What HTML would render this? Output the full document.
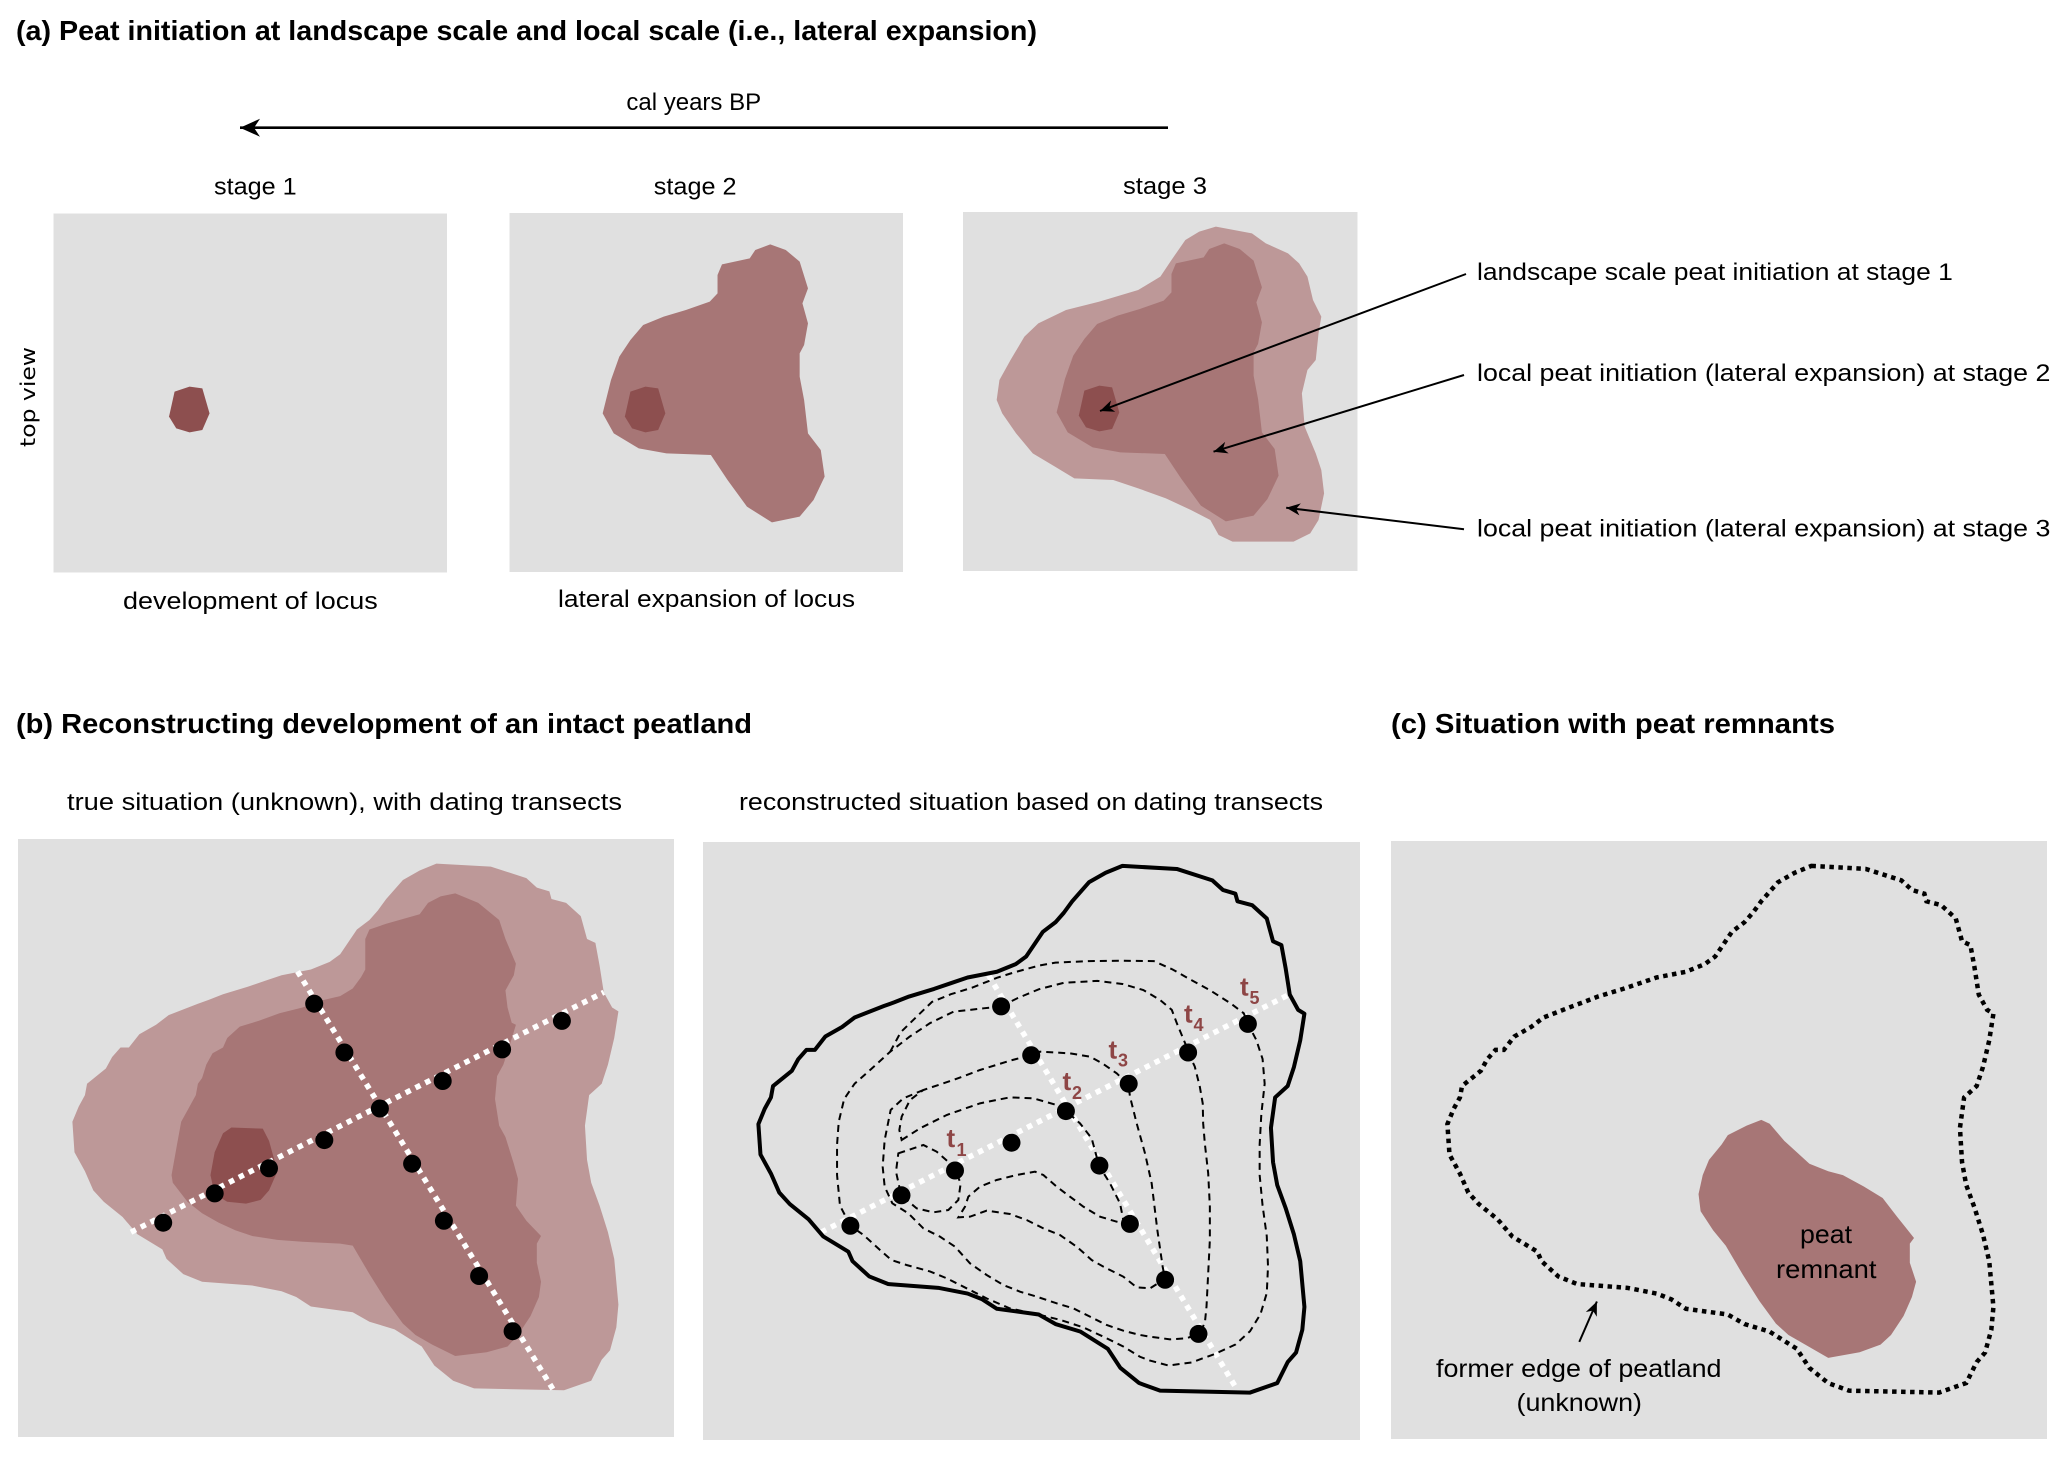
<!DOCTYPE html>
<html>
<head>
<meta charset="utf-8">
<style>
  html, body { margin: 0; padding: 0; background: #ffffff; }
  svg { display: block; }
  text { font-family: "Liberation Sans", "DejaVu Sans", sans-serif; fill: #000; }
</style>
</head>
<body>
<svg width="2067" height="1458" viewBox="0 0 2067 1458" xmlns="http://www.w3.org/2000/svg">
  <defs>
    <marker id="ah" viewBox="-16 -8 18 16" markerWidth="18" markerHeight="16" refX="0" refY="0" orient="auto" markerUnits="userSpaceOnUse">
      <path d="M0,0 L-14,-6 L-10,0 L-14,6 Z" fill="#000"/>
    </marker>
    <marker id="ahBig" viewBox="-24 -11 26 22" markerWidth="26" markerHeight="22" refX="0" refY="0" orient="auto" markerUnits="userSpaceOnUse">
      <path d="M0,0 L-20,-9 L-14,0 L-20,9 Z" fill="#000"/>
    </marker>
    <path id="s2" d="M487,133 L460,150 L450,175 L400,193 L392,225 L392,280 L378,305 L335,330 L295,350 L258,375 L235,420 L215,470 L200,540 L185,640 L205,700 L250,745 L300,760 L380,765 L410,840 L445,920 L490,967 L540,950 L565,900 L585,830 L578,750 L555,700 L548,600 L540,530 L540,460 L548,435 L555,370 L545,310 L555,265 L540,185 L515,150 Z"/>
    <path id="blob" d="M262,560 L285,565 L298,640 L285,690 L262,697 L238,685 L225,650 L235,575 Z"/>
    <path id="outer" vector-effect="non-scaling-stroke" d="M1000,62 L1130,70 L1215,100 L1240,125 L1270,135 L1275,155 L1310,165 L1345,200 L1360,260 L1380,270 L1390,330 L1400,400 L1420,440 L1435,450 L1425,520 L1410,590 L1395,640 L1365,670 L1355,750 L1360,840 L1370,900 L1390,960 L1410,1030 L1425,1100 L1435,1220 L1430,1280 L1415,1340 L1395,1365 L1370,1420 L1305,1445 L1090,1440 L1040,1420 L995,1380 L965,1330 L900,1285 L840,1265 L800,1240 L700,1225 L665,1200 L630,1185 L560,1170 L440,1160 L395,1140 L355,1100 L345,1075 L285,1035 L250,990 L205,950 L180,920 L160,870 L135,820 L130,740 L145,700 L160,670 L165,640 L210,600 L225,570 L245,545 L265,545 L290,510 L330,485 L360,460 L430,430 L455,420 L490,405 L550,385 L590,370 L630,355 L700,340 L745,320 L770,300 L810,235 L840,210 L860,185 L880,155 L920,105 L960,80 Z"/>
  </defs>

  <!-- ================= (a) ================= -->
  <text x="16" y="40" font-size="28" font-weight="bold" textLength="1021" lengthAdjust="spacingAndGlyphs">(a) Peat initiation at landscape scale and local scale (i.e., lateral expansion)</text>

  <text x="626.4" y="110" font-size="24" textLength="134.7" lengthAdjust="spacingAndGlyphs">cal years BP</text>
  <path d="M1168,127.7 L240,127.7" stroke="#000" stroke-width="2.7" fill="none" marker-end="url(#ahBig)"/>

  <text x="214" y="194.5" font-size="24" textLength="82.7" lengthAdjust="spacingAndGlyphs">stage 1</text>
  <text x="653.8" y="194.5" font-size="24" textLength="82.8" lengthAdjust="spacingAndGlyphs">stage 2</text>
  <text x="1123" y="194" font-size="24" textLength="84" lengthAdjust="spacingAndGlyphs">stage 3</text>

  <rect x="53.5" y="213.5" width="393.5" height="359" fill="#e0e0e0"/>
  <rect x="509.5" y="213" width="393.5" height="359" fill="#e0e0e0"/>
  <rect x="963" y="212" width="394.5" height="359" fill="#e0e0e0"/>

  <g transform="translate(500 200) scale(0.554939 0.333333)">
    <use href="#blob" transform="translate(-821.4 0)" fill="#8d4f4f"/>
    <use href="#s2" fill="#a77676"/>
    <use href="#blob" fill="#8d4f4f"/>
    <path fill="#bd9898" d="M1290,80 L1355,100 L1380,130 L1420,160 L1440,190 L1455,230 L1465,300 L1480,350 L1475,400 L1470,480 L1455,510 L1445,580 L1450,680 L1470,760 L1480,810 L1485,880 L1475,960 L1460,1000 L1430,1025 L1320,1025 L1295,1005 L1280,960 L1245,930 L1200,895 L1150,865 L1105,840 L1035,835 L1000,800 L960,760 L930,700 L905,640 L895,600 L900,540 L920,480 L945,410 L970,370 L1020,330 L1080,305 L1150,270 L1190,230 L1210,180 L1235,120 L1260,95 Z"/>
    <g transform="translate(818 -3)">
      <use href="#s2" fill="#a77676"/>
      <use href="#blob" fill="#8d4f4f"/>
    </g>
  </g>

  <text transform="translate(35 397) rotate(-90)" text-anchor="middle" font-size="20" style="font-family:'DejaVu Sans','Liberation Sans',sans-serif" textLength="100" lengthAdjust="spacingAndGlyphs">top view</text>

  <text x="123" y="609" font-size="24" textLength="254.7" lengthAdjust="spacingAndGlyphs">development of locus</text>
  <text x="558" y="607" font-size="24" textLength="297" lengthAdjust="spacingAndGlyphs">lateral expansion of locus</text>

  <path d="M1466,274 L1100,411" stroke="#000" stroke-width="2" fill="none" marker-end="url(#ah)"/>
  <path d="M1464,375 L1213.5,451.7" stroke="#000" stroke-width="2" fill="none" marker-end="url(#ah)"/>
  <path d="M1464,529.3 L1286.2,507.7" stroke="#000" stroke-width="2" fill="none" marker-end="url(#ah)"/>

  <text x="1477" y="280" font-size="24" textLength="475.8" lengthAdjust="spacingAndGlyphs">landscape scale peat initiation at stage 1</text>
  <text x="1477" y="381" font-size="24" textLength="573.4" lengthAdjust="spacingAndGlyphs">local peat initiation (lateral expansion) at stage 2</text>
  <text x="1477" y="536.5" font-size="24" textLength="573.4" lengthAdjust="spacingAndGlyphs">local peat initiation (lateral expansion) at stage 3</text>

  <!-- ================= (b) / (c) titles ================= -->
  <text x="16" y="733" font-size="28" font-weight="bold" textLength="736" lengthAdjust="spacingAndGlyphs">(b) Reconstructing development of an intact peatland</text>
  <text x="1391" y="733" font-size="28" font-weight="bold" textLength="444" lengthAdjust="spacingAndGlyphs">(c) Situation with peat remnants</text>

  <text x="67" y="810" font-size="24" textLength="555" lengthAdjust="spacingAndGlyphs">true situation (unknown), with dating transects</text>
  <text x="739" y="810" font-size="24" textLength="584" lengthAdjust="spacingAndGlyphs">reconstructed situation based on dating transects</text>

  <!-- ================= (b) left panel ================= -->
  <rect x="18" y="839" width="656" height="598" fill="#e0e0e0"/>
  <g transform="translate(18 840) scale(0.41841 0.38081)">
    <use href="#outer" fill="#bd9898"/>
    <path fill="#a77676" d="M1045,140 L1100,165 L1150,210 L1165,260 L1190,325 L1185,355 L1165,395 L1170,440 L1180,480 L1190,485 L1175,540 L1160,590 L1145,620 L1140,680 L1150,750 L1165,780 L1185,850 L1195,890 L1190,960 L1215,1000 L1250,1040 L1240,1060 L1240,1110 L1250,1160 L1245,1200 L1225,1250 L1195,1300 L1170,1330 L1120,1345 L1045,1355 L990,1325 L950,1300 L920,1270 L880,1210 L840,1140 L800,1065 L770,1060 L680,1055 L620,1050 L560,1040 L520,1025 L480,1005 L440,980 L405,950 L370,900 L367,880 L380,800 L390,740 L410,700 L425,670 L430,640 L440,625 L450,590 L465,560 L490,545 L500,520 L530,490 L575,475 L625,455 L680,440 L730,420 L770,410 L800,390 L820,360 L830,340 L830,260 L840,235 L880,220 L960,195 L980,165 L1010,148 Z"/>
    <path fill="#8d4f4f" d="M510,755 L585,758 L600,790 L620,870 L600,920 L580,945 L545,955 L500,950 L470,930 L460,880 L470,820 L490,770 Z"/>
  </g>
  <g stroke="#ffffff" stroke-width="5.5" stroke-dasharray="5.5 5.5" fill="none">
    <path d="M297.5,971.4 L553.6,1390.3"/>
    <path d="M131,1232.2 L603.8,992.3"/>
  </g>
  <g fill="#000">
    <circle cx="314.2" cy="1003.7" r="9"/>
    <circle cx="344.4" cy="1052.5" r="9"/>
    <circle cx="379.9" cy="1108.5" r="9"/>
    <circle cx="412.1" cy="1163.7" r="9"/>
    <circle cx="443.9" cy="1220.8" r="9"/>
    <circle cx="479.1" cy="1276" r="9"/>
    <circle cx="512.6" cy="1331.2" r="9"/>
    <circle cx="163.2" cy="1222.7" r="9"/>
    <circle cx="214.7" cy="1193.4" r="9"/>
    <circle cx="269" cy="1168.3" r="9"/>
    <circle cx="324.3" cy="1140.1" r="9"/>
    <circle cx="442.7" cy="1081" r="9"/>
    <circle cx="502.1" cy="1049.4" r="9"/>
    <circle cx="561.9" cy="1020.9" r="9"/>
  </g>

  <!-- ================= (b) middle panel ================= -->
  <rect x="703" y="842" width="657" height="598" fill="#e0e0e0"/>
  <g stroke="#ffffff" stroke-width="5.5" stroke-dasharray="5.5 5.5" fill="none">
    <path d="M988.5,975.2 L1237.5,1390.3"/>
    <path d="M821.2,1232.2 L1289.8,994.2"/>
  </g>
  <g transform="translate(704 842.3) scale(0.41841 0.38081)">
    <use href="#outer" fill="none" stroke="#000" stroke-width="4" stroke-linejoin="round"/>
  </g>
  <g transform="translate(704 840) scale(0.41841 0.38081)" fill="none" stroke="#000" stroke-width="2" stroke-dasharray="7 5">
    <path vector-effect="non-scaling-stroke" d="M445,556 L470,505 L510,462 L545,425 L590,405 L640,388 L700,362 L740,348 L800,330 L840,322 L920,318 L1000,317 L1075,318 L1120,340 L1160,365 L1210,395 L1260,430 L1290,455 L1300,483 L1320,525 L1335,575 L1340,640 L1332,720 L1328,800 L1328,880 L1335,960 L1345,1040 L1348,1120 L1345,1190 L1330,1245 L1305,1290 L1270,1325 L1220,1350 L1165,1372 L1110,1380 L1066,1367 L1042,1357 L1002,1330 L954,1304 L907,1280 L851,1260 L795,1245 L731,1230 L676,1204 L620,1173 L580,1151 L540,1133 L484,1116 L448,1103 L421,1077 L381,1037 L350,1013"/>
    <path vector-effect="non-scaling-stroke" d="M710,437 L668,442 L596,451 L540,481 L492,516 L445,556 L397,604 L360,640 L335,680 L322,740 L318,800 L318,880 L325,960 L350,1013"/>
    <path vector-effect="non-scaling-stroke" d="M710,437 L750,415 L800,392 L860,375 L940,370 L1000,378 L1050,394 L1090,420 L1118,446 L1130,481 L1150,534 L1157,558 L1173,595 L1185,648 L1192,692 L1193,744 L1197,797 L1205,875 L1209,963 L1209,1050 L1205,1138 L1201,1225 L1197,1269 L1183,1296"/>
  </g>
  <g transform="translate(870 990) scale(0.333333)" fill="none" stroke="#000" stroke-width="2" stroke-dasharray="7 5">
    <path vector-effect="non-scaling-stroke" d="M85,490 L160,465 L200,485 L240,520 L257,543 L272,580 L265,630 L235,660 L190,667 L140,655 L110,630 L90,600 L78,545 Z"/>
    <path vector-effect="non-scaling-stroke" d="M95,450 L150,415 L230,375 L330,340 L420,322 L490,325 L560,345 L588,363 L630,400 L665,445 L687,527 L720,580 L750,640 L760,690 L782,702 L740,695 L690,680 L640,650 L600,620 L560,590 L520,555 L495,545 L440,555 L380,570 L330,590 L295,620 L285,650 L265,682 L300,680 L350,662 L420,672 L470,690 L520,715 L570,735 L620,770 L665,810 L700,830 L760,860 L800,892 L840,895 L885,867 L878,830 L862,720 L845,580 L825,490 L800,400 L780,320 L775,283 L740,250 L700,222 L660,200 L600,190 L510,185 L483,195 L420,212 L330,240 L250,270 L160,300 L120,330 L95,380 L88,420 Z"/>
    <path vector-effect="non-scaling-stroke" d="M160,300 L100,325 L62,360 L44,450 L38,530 L44,590 L67,640 L115,670 L160,715 L210,740 L255,770 L300,820 L350,855 L400,885 L450,905 L500,920 L560,940 L610,955 L660,980 L710,1005 L760,1022 L810,1035 L840,1040 L900,1048 L950,1045 L987,1030"/>
  </g>
  <g fill="#000">
    <circle cx="1001.1" cy="1006.4" r="9"/>
    <circle cx="1031.2" cy="1055.2" r="9"/>
    <circle cx="1065.9" cy="1111.1" r="9"/>
    <circle cx="1099.4" cy="1165.6" r="9"/>
    <circle cx="1129.9" cy="1223.9" r="9"/>
    <circle cx="1165.1" cy="1279.8" r="9"/>
    <circle cx="1198.5" cy="1333.9" r="9"/>
    <circle cx="850.4" cy="1225.8" r="9"/>
    <circle cx="901.5" cy="1195.3" r="9"/>
    <circle cx="955" cy="1170.5" r="9"/>
    <circle cx="1011.5" cy="1142.7" r="9"/>
    <circle cx="1128.7" cy="1083.7" r="9"/>
    <circle cx="1188.1" cy="1052.5" r="9"/>
    <circle cx="1247.9" cy="1023.9" r="9"/>
  </g>
  <g font-weight="bold">
    <text x="946.5" y="1147" font-size="26" style="fill:#8e4646">t</text>
    <text x="956.5" y="1156" font-size="18" style="fill:#8e4646">1</text>
    <text x="1062.5" y="1090" font-size="26" style="fill:#8e4646">t</text>
    <text x="1072" y="1099" font-size="18" style="fill:#8e4646">2</text>
    <text x="1108.5" y="1058.3" font-size="26" style="fill:#8e4646">t</text>
    <text x="1118" y="1066.5" font-size="18" style="fill:#8e4646">3</text>
    <text x="1184" y="1022.7" font-size="26" style="fill:#8e4646">t</text>
    <text x="1193.5" y="1031" font-size="18" style="fill:#8e4646">4</text>
    <text x="1240" y="995.4" font-size="26" style="fill:#8e4646">t</text>
    <text x="1249.5" y="1004" font-size="18" style="fill:#8e4646">5</text>
  </g>

  <!-- ================= (c) panel ================= -->
  <rect x="1391" y="841" width="656" height="598" fill="#e0e0e0"/>
  <g transform="translate(1393 842.3) scale(0.41841 0.38081)">
    <use href="#outer" fill="none" stroke="#000" stroke-width="4.5" stroke-dasharray="4.5 4.5"/>
  </g>
  <g transform="translate(1391 840) scale(0.41841 0.38081)">
    <path fill="#a77676" d="M885,735 L905,745 L940,790 L1000,850 L1045,870 L1080,880 L1130,910 L1175,940 L1210,990 L1250,1045 L1240,1060 L1240,1110 L1255,1160 L1245,1200 L1225,1250 L1195,1300 L1170,1325 L1120,1345 L1045,1360 L990,1325 L950,1300 L920,1270 L880,1210 L840,1140 L800,1065 L770,1025 L740,975 L735,930 L745,880 L760,840 L790,800 L805,775 L850,750 Z"/>
  </g>
  <text x="1800" y="1243" font-size="26" textLength="52" lengthAdjust="spacingAndGlyphs">peat</text>
  <text x="1776" y="1278" font-size="26" textLength="100.5" lengthAdjust="spacingAndGlyphs">remnant</text>
  <path d="M1579.3,1341.9 L1596.9,1301.5" stroke="#000" stroke-width="2" fill="none" marker-end="url(#ah)"/>
  <text x="1436" y="1377" font-size="25" textLength="285.5" lengthAdjust="spacingAndGlyphs">former edge of peatland</text>
  <text x="1516.5" y="1411" font-size="25" textLength="125.5" lengthAdjust="spacingAndGlyphs">(unknown)</text>
</svg>
</body>
</html>
